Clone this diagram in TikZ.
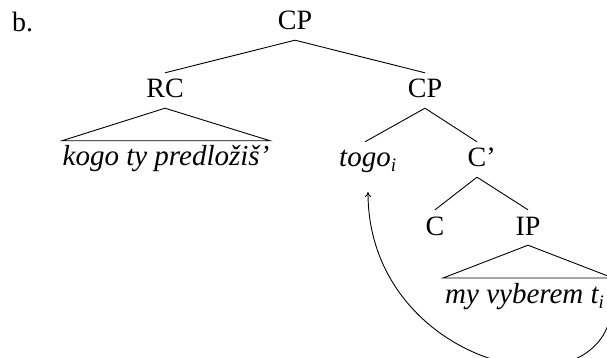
\documentclass[tikz,border=0pt]{standalone}
\usepackage{fontspec}
\setmainfont{Liberation Serif}
\usetikzlibrary{arrows.meta,calc}
\newcommand{\subi}{\raisebox{-5pt}{\fontsize{19}{19}\selectfont\itshape i}}
\newcommand{\itl}{\fontsize{29}{34}\selectfont\itshape}
\begin{document}
\begin{tikzpicture}[x=1pt,y=-1pt,
  font=\fontsize{28}{34}\selectfont,
  every node/.style={inner xsep=0pt, inner ysep=4pt, text height=21pt, text depth=6pt},
  edge/.style={line width=0.9pt},
  move/.style={line width=0.9pt, -{To[length=5pt,width=6pt]}}]
\useasboundingbox (0,0) rectangle (607,358);
\clip (0,0) rectangle (607,358);
\node[anchor=base west] (lbl) at (12,32) {b.};
\node[anchor=base] (cp1) at (295,30) {CP};
\node[anchor=base] (rc) at (165,98) {RC};
\node[anchor=base] (cp2) at (425,98) {CP};
\node[anchor=base, minimum width=208pt] (kogo) at (166,166) {\itl kogo ty predložiš’};
\node[anchor=base] (togo) at (365,167) {\itl togo\rlap{\subi}};
\node[anchor=base] (cbar) at (477,167) {C\rlap{’}};
\node[anchor=base] (c) at (435,235) {C};
\node[anchor=base] (ip) at (528,235) {IP};
\node[anchor=base west] (myv) at (445,303) {\itl my vyberem t\subi};
\coordinate (ipL) at (443,278);
\coordinate (ipR) at (613,278);
\coordinate (tstart) at (612,308);
\coordinate (tip) at (368,192);
\draw[edge] (cp1.south) -- (rc.north);
\draw[edge] (cp1.south) -- (cp2.north);
\draw[edge] (rc.south) -- (kogo.north west) -- (kogo.north east) -- cycle;
\draw[edge] (cp2.south) -- (togo.north);
\draw[edge] (cp2.south) -- (cbar.north);
\draw[edge] (cbar.south) -- (c.north);
\draw[edge] (cbar.south) -- (ip.north);
\draw[edge] (ip.south) -- (ipL) -- (ipR) -- cycle;
\draw[move] (tstart) .. controls (600,420) and (368,365) .. (tip);
\end{tikzpicture}
\end{document}
